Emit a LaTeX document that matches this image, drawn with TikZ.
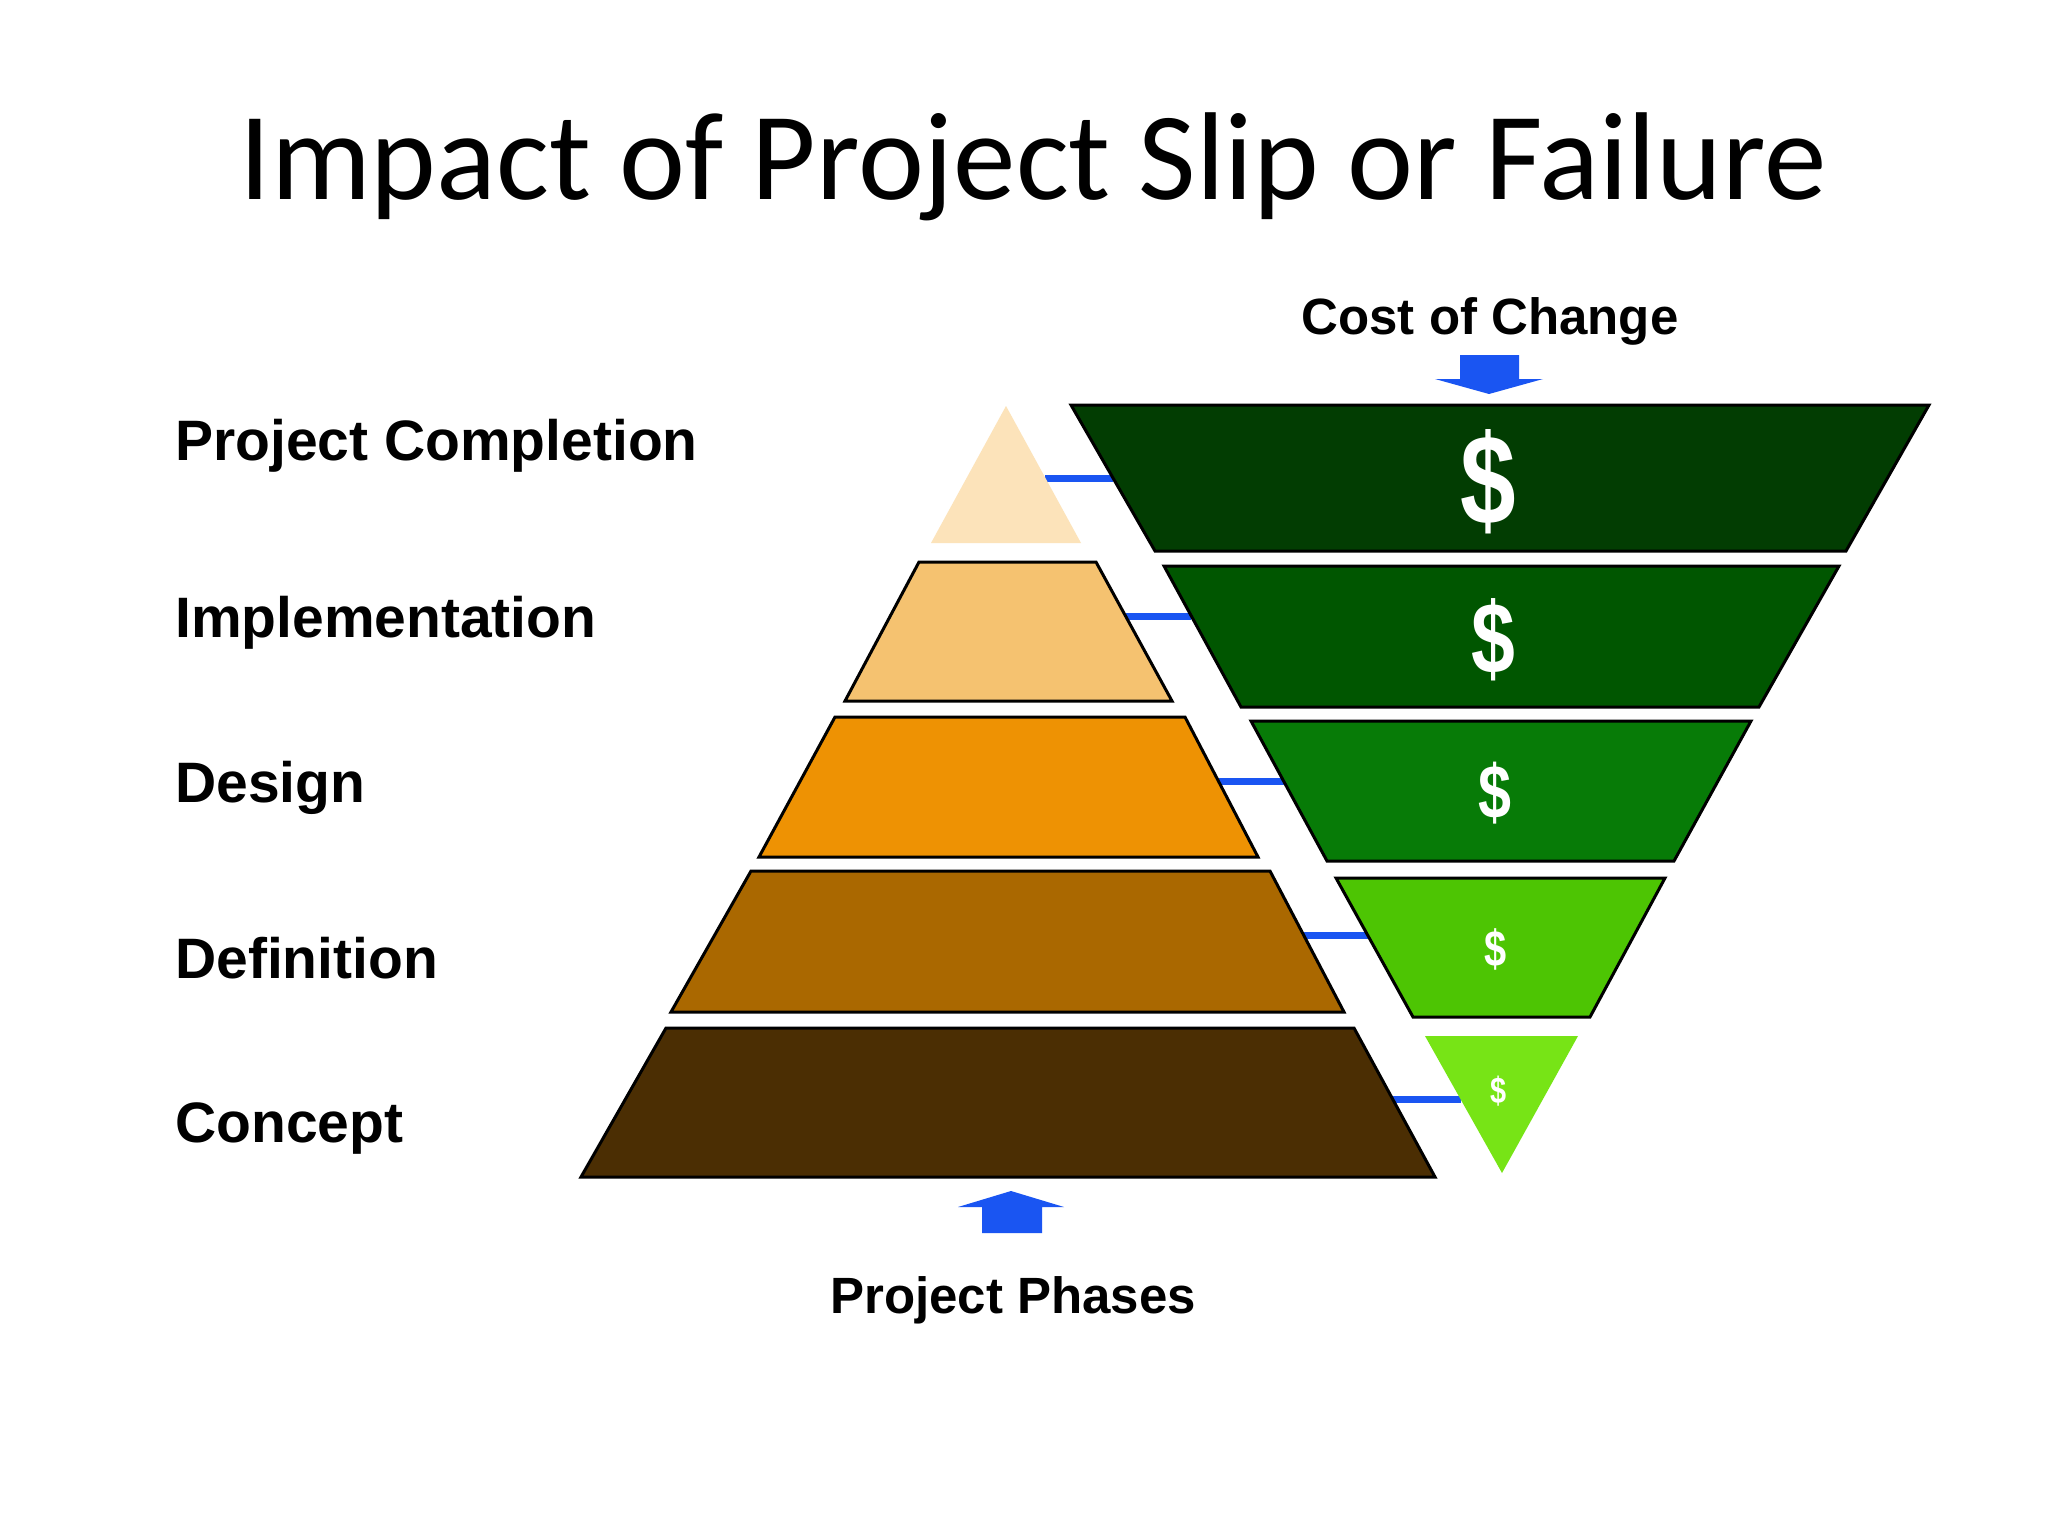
\documentclass[tikz,border=0pt]{standalone}
\usepackage{fontspec}
\setmainfont{Liberation Sans}
\newfontfamily\titlefont{Carlito}
\definecolor{peachA}{HTML}{FCE3BA}
\definecolor{peachB}{HTML}{F5C270}
\definecolor{orangeC}{HTML}{EE9203}
\definecolor{brownD}{HTML}{AA6800}
\definecolor{brownE}{HTML}{4B2E03}
\definecolor{greenA}{HTML}{023D02}
\definecolor{greenB}{HTML}{005600}
\definecolor{greenC}{HTML}{077B07}
\definecolor{greenD}{HTML}{4DC503}
\definecolor{greenE}{HTML}{77E416}
\definecolor{linkblue}{HTML}{1A55F2}
\newcommand{\moneysign}{\scalebox{0.78}[1]{\$}}
\begin{document}
\begin{tikzpicture}[x=1pt,y=-1pt,
  layer/.style={draw=black,line width=3pt,line join=miter},
  link/.style={draw=linkblue,line width=7pt},
  blockarrow/.style={fill=linkblue,draw=none},
  label/.style={font=\bfseries\fontsize{57}{60}\selectfont,anchor=base west,inner sep=0pt},
  axislabel/.style={font=\bfseries\fontsize{51}{56}\selectfont,anchor=base,inner sep=0pt},
  money/.style={text=white,inner sep=0pt,anchor=center}]
\fill[white] (0,0) rectangle (2048,1536);
\useasboundingbox (0,0) rectangle (2048,1536);

% title
\node[anchor=base,inner sep=0pt,font=\titlefont\fontsize{125}{140}\selectfont] (title) at (1033,199) {Impact of Project Slip or Failure};

% left labels
\node[label] (lPC) at (175,460) {Project Completion};
\node[label] (lIm) at (175,637) {Implementation};
\node[label] (lDe) at (175,802) {Design};
\node[label] (lDf) at (175,978) {Definition};
\node[label] (lCo) at (175,1142) {Concept};

% pyramid corner coordinates
\coordinate (p1t) at (1006,406);
\coordinate (p1bl) at (931,543);  \coordinate (p1br) at (1081,543);
\coordinate (p2tl) at (919,562);  \coordinate (p2tr) at (1096,562);
\coordinate (p2bl) at (845,701);  \coordinate (p2br) at (1172,701);
\coordinate (p3tl) at (835,717);  \coordinate (p3tr) at (1185,717);
\coordinate (p3bl) at (759,857);  \coordinate (p3br) at (1258,857);
\coordinate (p4tl) at (751,871);  \coordinate (p4tr) at (1270,871);
\coordinate (p4bl) at (671,1012); \coordinate (p4br) at (1344,1012);
\coordinate (p5tl) at (666,1028); \coordinate (p5tr) at (1354,1028);
\coordinate (p5bl) at (581,1177); \coordinate (p5br) at (1435,1177);

% inverted pyramid corners
\coordinate (gAtl) at (1071,405); \coordinate (gAtr) at (1929,405);
\coordinate (gAbl) at (1155,551); \coordinate (gAbr) at (1846,551);
\coordinate (gBtl) at (1164,566); \coordinate (gBtr) at (1839,566);
\coordinate (gBbl) at (1241,707); \coordinate (gBbr) at (1759,707);
\coordinate (gCtl) at (1251,721); \coordinate (gCtr) at (1751,721);
\coordinate (gCbl) at (1327,861); \coordinate (gCbr) at (1674,861);
\coordinate (gDtl) at (1336,878); \coordinate (gDtr) at (1665,878);
\coordinate (gDbl) at (1413,1017); \coordinate (gDbr) at (1590,1017);
\coordinate (gEtl) at (1425,1036); \coordinate (gEtr) at (1578,1036);
\coordinate (gEb) at (1502,1173);

% connector end points on the edges
\path (p1t) -- (p1br) coordinate[pos=0.526] (c1a);
\path (gAtl) -- (gAbl) coordinate[pos=0.5] (c1b);
\path (p2tr) -- (p2br) coordinate[pos=0.39] (c2a);
\path (gBtl) -- (gBbl) coordinate[pos=0.355] (c2b);
\path (p3tr) -- (p3br) coordinate[pos=0.464] (c3a);
\path (gCtl) -- (gCbl) coordinate[pos=0.436] (c3b);
\path (p4tr) -- (p4br) coordinate[pos=0.46] (c4a);
\path (gDtl) -- (gDbl) coordinate[pos=0.417] (c4b);
\path (p5tr) -- (p5br) coordinate[pos=0.483] (c5a);
\path (gEtl) -- (gEb) coordinate[pos=0.467] (c5b);

% connectors
\draw[link] (c1a) -- (c1a -| c1b);
\draw[link] (c2a) -- (c2a -| c2b);
\draw[link] (c3a) -- (c3a -| c3b);
\draw[link] (c4a) -- (c4a -| c4b);
\draw[link] (c5a) -- (c5a -| c5b);

% pyramid
\fill[peachA] (p1t) -- (p1br) -- (p1bl) -- cycle;
\filldraw[layer,fill=peachB] (p2tl) -- (p2tr) -- (p2br) -- (p2bl) -- cycle;
\filldraw[layer,fill=orangeC] (p3tl) -- (p3tr) -- (p3br) -- (p3bl) -- cycle;
\filldraw[layer,fill=brownD] (p4tl) -- (p4tr) -- (p4br) -- (p4bl) -- cycle;
\filldraw[layer,fill=brownE] (p5tl) -- (p5tr) -- (p5br) -- (p5bl) -- cycle;

% inverted pyramid
\filldraw[layer,fill=greenA] (gAtl) -- (gAtr) -- (gAbr) -- (gAbl) -- cycle;
\filldraw[layer,fill=greenB] (gBtl) -- (gBtr) -- (gBbr) -- (gBbl) -- cycle;
\filldraw[layer,fill=greenC] (gCtl) -- (gCtr) -- (gCbr) -- (gCbl) -- cycle;
\filldraw[layer,fill=greenD] (gDtl) -- (gDtr) -- (gDbr) -- (gDbl) -- cycle;
\fill[greenE] (gEtl) -- (gEtr) -- (gEb) -- cycle;

% dollar signs
\node[money,font=\bfseries\fontsize{128}{130}\selectfont] (dA) at (1488,482) {\moneysign};
\node[money,font=\bfseries\fontsize{101}{104}\selectfont] (dB) at (1493,640) {\moneysign};
\node[money,font=\bfseries\fontsize{76}{80}\selectfont] (dC) at (1495,793) {\moneysign};
\node[money,font=\bfseries\fontsize{51}{54}\selectfont] (dD) at (1496,949) {\moneysign};
\node[money,font=\bfseries\fontsize{37}{40}\selectfont] (dE) at (1499,1091) {\moneysign};

% axis labels and block arrows
\node[axislabel] (cost) at (1490,334) {Cost of Change};
\fill[blockarrow] (1460,355) -- (1519,355) -- (1519,379) -- (1543,379) -- (1489,394) -- (1435,379) -- (1460,379) -- cycle;
\fill[blockarrow] (982,1233) -- (1042,1233) -- (1042,1207) -- (1064,1207) -- (1011,1191) -- (958,1207) -- (982,1207) -- cycle;
\node[axislabel] (phases) at (1013,1313) {Project Phases};
\end{tikzpicture}
\end{document}
